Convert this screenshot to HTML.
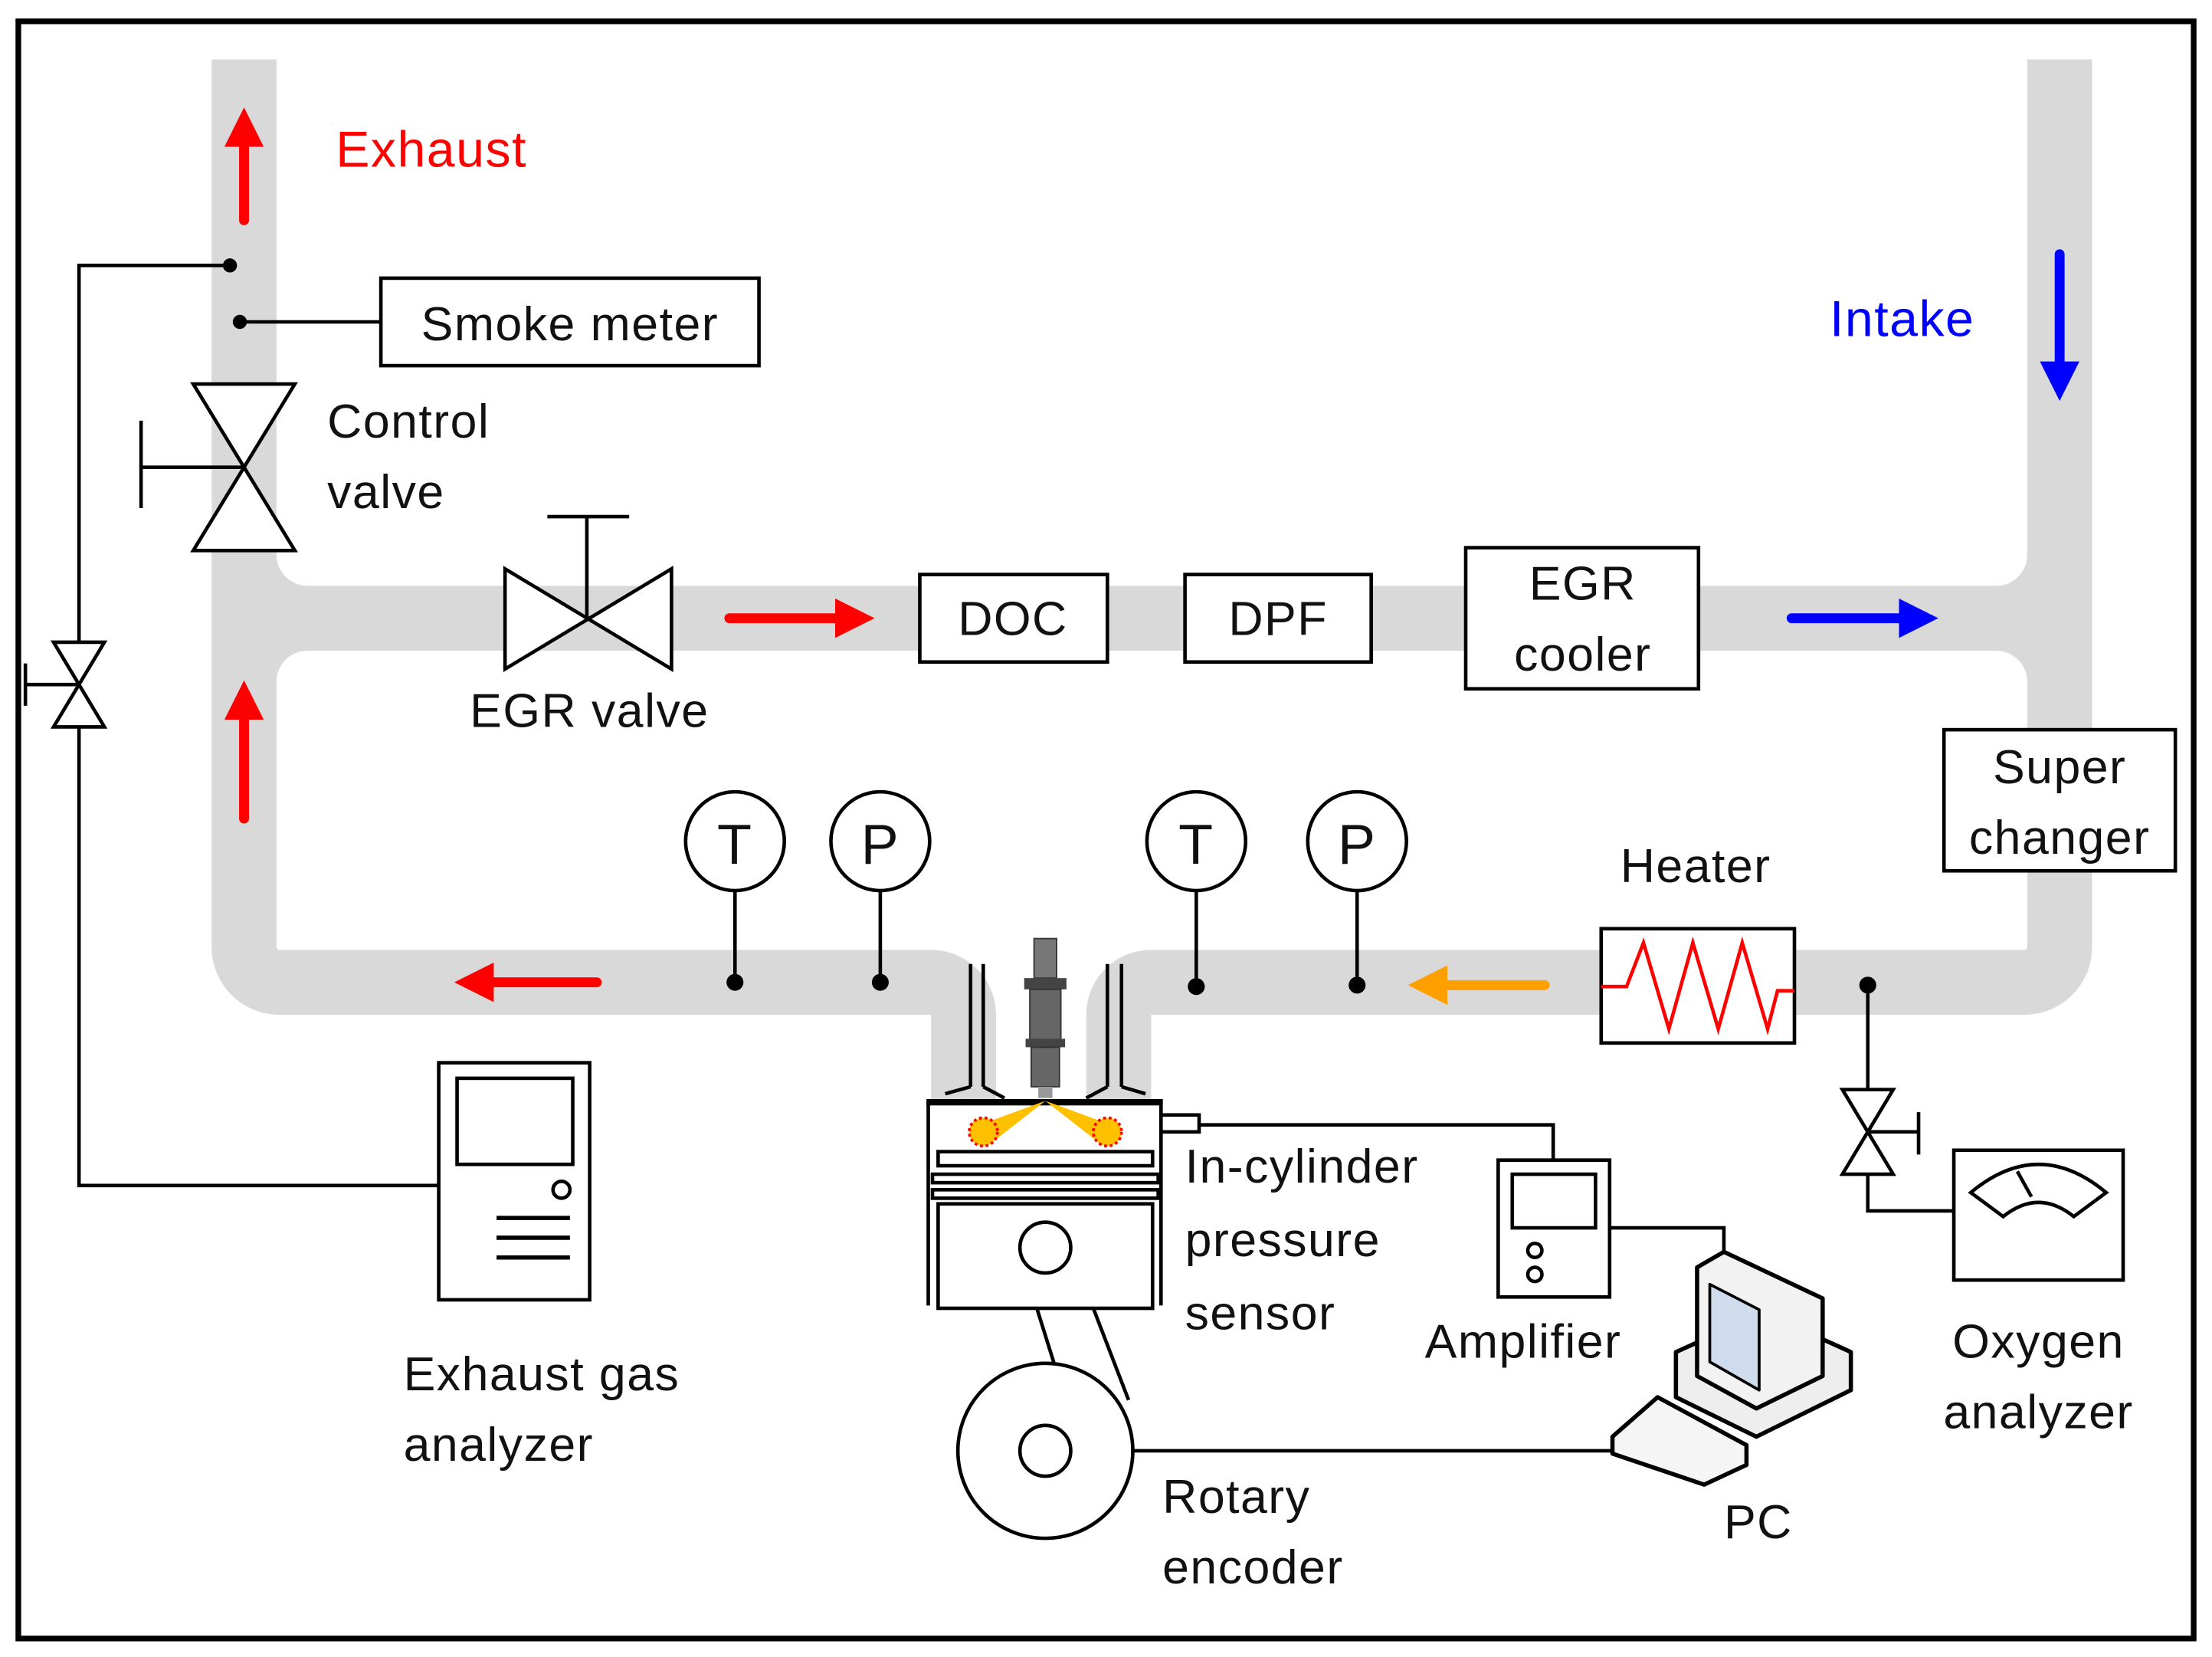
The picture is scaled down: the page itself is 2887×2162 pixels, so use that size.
<!DOCTYPE html>
<html><head><style>
html,body{margin:0;padding:0;background:#fff;}
svg{display:block;}
text{font-family:"Liberation Sans","DejaVu Sans",sans-serif;font-size:34px;fill:#111;letter-spacing:0.8px;}
</style></head><body>
<svg width="2887" height="2162" viewBox="0 0 1568 1174" xmlns="http://www.w3.org/2000/svg">
<rect x="0" y="0" width="1568" height="1174" fill="#fff"/>
<rect x="13" y="15" width="1542" height="1146" fill="none" stroke="#000" stroke-width="4"/>
<g fill="none" stroke="#d9d9d9" stroke-width="46">
  <path d="M173 42 V671 A25 25 0 0 0 198 696 H660 A23 23 0 0 1 683 719 V780"/>
  <path d="M1460 42 V671 A25 25 0 0 1 1435 696 H816 A23 23 0 0 0 793 719 V780"/>
  <path d="M173 438 H1460"/>
</g>
<g fill="#d9d9d9">
  <path d="M196 393 V415 H218 A22 22 0 0 1 196 393 Z"/>
  <path d="M196 483 V461 H218 A22 22 0 0 0 196 483 Z"/>
  <path d="M1437 393 V415 H1415 A22 22 0 0 0 1437 393 Z"/>
  <path d="M1437 483 V461 H1415 A22 22 0 0 1 1437 483 Z"/>
</g>
<defs>
  <marker id="ar" markerWidth="4" markerHeight="4" refX="0" refY="2" orient="auto" markerUnits="strokeWidth"><path d="M0 0 L4 2 L0 4z" fill="#ff0000"/></marker>
  <marker id="ab" markerWidth="4" markerHeight="4" refX="0" refY="2" orient="auto" markerUnits="strokeWidth"><path d="M0 0 L4 2 L0 4z" fill="#0000ff"/></marker>
  <marker id="ao" markerWidth="4" markerHeight="4" refX="0" refY="2" orient="auto" markerUnits="strokeWidth"><path d="M0 0 L4 2 L0 4z" fill="#ffa000"/></marker>
</defs>
<g stroke-width="7" stroke-linecap="round" fill="none">
  <line x1="173" y1="156" x2="173" y2="104" stroke="#f00" marker-end="url(#ar)"/>
  <line x1="173" y1="580" x2="173" y2="510" stroke="#f00" marker-end="url(#ar)"/>
  <line x1="517" y1="438" x2="592" y2="438" stroke="#f00" marker-end="url(#ar)"/>
  <line x1="423" y1="696" x2="350" y2="696" stroke="#f00" marker-end="url(#ar)"/>
  <line x1="1460" y1="180" x2="1460" y2="256" stroke="#00f" marker-end="url(#ab)"/>
  <line x1="1270" y1="438" x2="1346" y2="438" stroke="#00f" marker-end="url(#ab)"/>
  <line x1="1095" y1="698" x2="1026" y2="698" stroke="#ffa000" marker-end="url(#ao)"/>
</g>
<text x="238" y="118" style="fill:#f00;font-size:36px">Exhaust</text>
<text x="1297" y="238" style="fill:#00f;font-size:36px">Intake</text>
<g stroke="#000" stroke-width="2.5" fill="none">
  <path d="M163 188 H56 V840 H311"/>
  <path d="M38 455 H74 L38 515 H74 Z" fill="#fff"/>
  <path d="M56 485 H18 M18 470 V500"/>
  <path d="M170 228 H270"/>
  <rect x="270" y="197" width="268" height="62"/>
  <path d="M137 272 H209 L137 390 H209 Z" fill="#fff"/>
  <path d="M173 331 H100 M100 298 V360"/>
  <path d="M358 403 V474 L476 403 V474 Z" fill="#fff"/>
  <path d="M416 438 V366 M388 366 H446"/>
  <rect x="652" y="407" width="133" height="62" fill="#fff"/>
  <rect x="840" y="407" width="132" height="62" fill="#fff"/>
  <rect x="1039" y="388" width="165" height="100" fill="#fff"/>
  <rect x="1378" y="517" width="164" height="100" fill="#fff"/>
  <rect x="1135" y="658" width="137" height="81" fill="#fff"/>
  <circle cx="521" cy="596" r="35" fill="#fff"/><line x1="521" y1="631" x2="521" y2="696"/>
  <circle cx="624" cy="596" r="35" fill="#fff"/><line x1="624" y1="631" x2="624" y2="696"/>
  <circle cx="848" cy="596" r="35" fill="#fff"/><line x1="848" y1="631" x2="848" y2="699"/>
  <circle cx="962" cy="596" r="35" fill="#fff"/><line x1="962" y1="631" x2="962" y2="698"/>
  <path d="M1324 698 V772 M1324 832 V858 H1385"/>
  <path d="M1306 772 H1342 L1306 832 H1342 Z" fill="#fff"/>
  <path d="M1324 802 H1360 M1360 788 V818"/>
  <rect x="1385" y="815" width="120" height="92" fill="#fff"/>
  <path d="M1397 845 Q1445 805 1493 845 L1470 862 Q1445 842 1420 862 Z"/>
  <line x1="1430" y1="830" x2="1440" y2="848"/>
  <rect x="311" y="753" width="107" height="168" fill="#fff"/>
  <rect x="324" y="764" width="82" height="61"/>
  <circle cx="398" cy="843" r="6"/>
  <path d="M352 863 H404 M352 877 H404 M352 891 H404" stroke-width="3"/>
  <path d="M688 683 V770 M697 683 V770 M785 683 V770 M795 683 V770"/>
  <path d="M670 775 L688 770 M697 770 L712 778 M770 778 L785 770 M795 770 L812 775"/>
  <rect x="658" y="780" width="165" height="2"/>
  <path d="M658 780 H823 V925 M658 780 V925"/>
  <rect x="665" y="816" width="152" height="10"/>
  <rect x="661" y="832" width="160" height="6"/>
  <rect x="661" y="843" width="160" height="6"/>
  <rect x="665" y="853" width="152" height="74" fill="#fff"/>
  <circle cx="741" cy="884" r="18"/>
  <rect x="823" y="790" width="27" height="12" fill="#fff"/>
  <path d="M850 797 H1101 V822"/>
  <path d="M735 927 L750 975 M775 927 L800 992"/>
  <circle cx="741" cy="1028" r="62" fill="#fff"/>
  <circle cx="741" cy="1028" r="18"/>
  <path d="M803 1028 H1160"/>
  <rect x="1062" y="822" width="79" height="97" fill="#fff"/>
  <rect x="1072" y="832" width="59" height="38"/>
  <circle cx="1088" cy="886" r="5"/><circle cx="1088" cy="903" r="5"/>
  <path d="M1141 870 H1222 V890"/>
</g>
<g>
  <rect x="733" y="665" width="16" height="28" fill="#777" stroke="#333"/>
  <rect x="726" y="693" width="30" height="8" fill="#444"/>
  <rect x="730" y="701" width="22" height="38" fill="#666" stroke="#333"/>
  <rect x="727" y="736" width="28" height="6" fill="#444"/>
  <rect x="731" y="742" width="20" height="28" fill="#666" stroke="#333"/>
  <rect x="736" y="770" width="10" height="8" fill="#999"/>
</g>
<g fill="#ffc000">
  <path d="M741 780 L700 795 L700 812 Z"/><circle cx="697" cy="802" r="10" stroke="#f00" stroke-width="2" stroke-dasharray="2 2"/>
  <path d="M741 780 L782 795 L782 812 Z"/><circle cx="785" cy="802" r="10" stroke="#f00" stroke-width="2" stroke-dasharray="2 2"/>
</g>
<polyline points="1135,699 1153,699 1165,668 1183,729 1200,668 1218,729 1235,668 1253,729 1260,702 1272,702" fill="none" stroke="#f00" stroke-width="2.5"/>
<g fill="#000">
  <circle cx="163" cy="188" r="5"/><circle cx="170" cy="228" r="5"/>
  <circle cx="521" cy="696" r="6"/><circle cx="624" cy="696" r="6"/>
  <circle cx="848" cy="699" r="6"/><circle cx="962" cy="698" r="6"/>
  <circle cx="1324" cy="698" r="6"/>
</g>
<!-- PC -->
<g stroke="#000" stroke-width="3" stroke-linejoin="round">
  <path d="M1188 958 L1250 930 L1312 958 L1312 985 L1245 1018 L1188 990 Z" fill="#eee"/>
  <path d="M1203 898 L1222 887 L1292 920 L1292 975 L1245 998 L1203 975 Z" fill="#f2f2f2"/>
  <path d="M1212 910 L1247 928 L1247 985 L1212 965 Z" fill="#cfdcee" stroke-width="2"/>
  <path d="M1143 1018 L1175 990 L1238 1024 L1238 1038 L1208 1052 L1143 1030 Z" fill="#f5f5f5"/>
</g>
<text x="404" y="241" text-anchor="middle">Smoke meter</text>
<text x="232" y="310">Control</text>
<text x="232" y="360">valve</text>
<text x="333" y="515">EGR valve</text>
<text x="718" y="450" text-anchor="middle">DOC</text>
<text x="906" y="450" text-anchor="middle">DPF</text>
<text x="1122" y="425" text-anchor="middle">EGR</text>
<text x="1122" y="475" text-anchor="middle">cooler</text>
<text x="1460" y="555" text-anchor="middle">Super</text>
<text x="1460" y="605" text-anchor="middle">changer</text>
<text x="1202" y="625" text-anchor="middle">Heater</text>
<text x="521" y="612" text-anchor="middle" style="font-size:40px">T</text>
<text x="624" y="612" text-anchor="middle" style="font-size:40px">P</text>
<text x="848" y="612" text-anchor="middle" style="font-size:40px">T</text>
<text x="962" y="612" text-anchor="middle" style="font-size:40px">P</text>
<text x="286" y="985">Exhaust gas</text>
<text x="286" y="1035">analyzer</text>
<text x="840" y="838">In-cylinder</text>
<text x="840" y="890">pressure</text>
<text x="840" y="942">sensor</text>
<text x="1010" y="962">Amplifier</text>
<text x="1222" y="1090">PC</text>
<text x="824" y="1072">Rotary</text>
<text x="824" y="1122">encoder</text>
<text x="1445" y="962" text-anchor="middle">Oxygen</text>
<text x="1445" y="1012" text-anchor="middle">analyzer</text>
</svg>
</body></html>
